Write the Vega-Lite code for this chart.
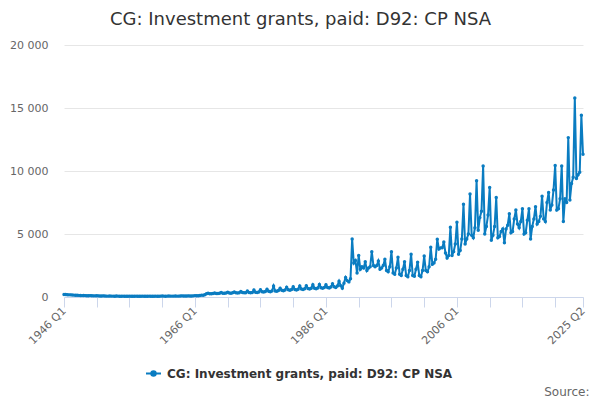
{
"$schema": "https://vega.github.io/schema/vega-lite/v6.json",
"width": 519, "height": 252,
"autosize": {"type": "none"},
"padding": {"left": 64, "top": 45, "right": 17, "bottom": 103},
"background": "white",
"config": {"view": {"stroke": null}, "font": "DejaVu Sans"},
"title": {"text": "CG: Investment grants, paid: D92: CP NSA", "font": "DejaVu Sans", "fontSize": 18, "fontWeight": "normal", "color": "#333333", "anchor": "middle", "frame": "group", "dx": -23, "offset": 10},
"data": {"values": [
{"q":"1946 Q1","v":190},{"q":"1946 Q2","v":200},{"q":"1946 Q3","v":180},{"q":"1946 Q4","v":170},
{"q":"1947 Q1","v":170},{"q":"1947 Q2","v":160},{"q":"1947 Q3","v":150},{"q":"1947 Q4","v":140},
{"q":"1948 Q1","v":140},{"q":"1948 Q2","v":130},{"q":"1948 Q3","v":120},{"q":"1948 Q4","v":110},
{"q":"1949 Q1","v":120},{"q":"1949 Q2","v":110},{"q":"1949 Q3","v":100},{"q":"1949 Q4","v":100},
{"q":"1950 Q1","v":110},{"q":"1950 Q2","v":100},{"q":"1950 Q3","v":90},{"q":"1950 Q4","v":90},
{"q":"1951 Q1","v":100},{"q":"1951 Q2","v":90},{"q":"1951 Q3","v":80},{"q":"1951 Q4","v":80},
{"q":"1952 Q1","v":90},{"q":"1952 Q2","v":80},{"q":"1952 Q3","v":70},{"q":"1952 Q4","v":70},
{"q":"1953 Q1","v":80},{"q":"1953 Q2","v":70},{"q":"1953 Q3","v":70},{"q":"1953 Q4","v":60},
{"q":"1954 Q1","v":80},{"q":"1954 Q2","v":70},{"q":"1954 Q3","v":60},{"q":"1954 Q4","v":60},
{"q":"1955 Q1","v":70},{"q":"1955 Q2","v":60},{"q":"1955 Q3","v":60},{"q":"1955 Q4","v":60},
{"q":"1956 Q1","v":70},{"q":"1956 Q2","v":60},{"q":"1956 Q3","v":60},{"q":"1956 Q4","v":60},
{"q":"1957 Q1","v":70},{"q":"1957 Q2","v":60},{"q":"1957 Q3","v":60},{"q":"1957 Q4","v":60},
{"q":"1958 Q1","v":70},{"q":"1958 Q2","v":60},{"q":"1958 Q3","v":60},{"q":"1958 Q4","v":60},
{"q":"1959 Q1","v":70},{"q":"1959 Q2","v":60},{"q":"1959 Q3","v":60},{"q":"1959 Q4","v":60},
{"q":"1960 Q1","v":70},{"q":"1960 Q2","v":60},{"q":"1960 Q3","v":60},{"q":"1960 Q4","v":70},
{"q":"1961 Q1","v":80},{"q":"1961 Q2","v":70},{"q":"1961 Q3","v":60},{"q":"1961 Q4","v":70},
{"q":"1962 Q1","v":80},{"q":"1962 Q2","v":70},{"q":"1962 Q3","v":70},{"q":"1962 Q4","v":70},
{"q":"1963 Q1","v":80},{"q":"1963 Q2","v":70},{"q":"1963 Q3","v":70},{"q":"1963 Q4","v":80},
{"q":"1964 Q1","v":90},{"q":"1964 Q2","v":80},{"q":"1964 Q3","v":80},{"q":"1964 Q4","v":80},
{"q":"1965 Q1","v":90},{"q":"1965 Q2","v":80},{"q":"1965 Q3","v":80},{"q":"1965 Q4","v":90},
{"q":"1966 Q1","v":110},{"q":"1966 Q2","v":100},{"q":"1966 Q3","v":100},{"q":"1966 Q4","v":120},
{"q":"1967 Q1","v":150},{"q":"1967 Q2","v":140},{"q":"1967 Q3","v":180},{"q":"1967 Q4","v":260},
{"q":"1968 Q1","v":300},{"q":"1968 Q2","v":260},{"q":"1968 Q3","v":250},{"q":"1968 Q4","v":270},
{"q":"1969 Q1","v":320},{"q":"1969 Q2","v":280},{"q":"1969 Q3","v":270},{"q":"1969 Q4","v":290},
{"q":"1970 Q1","v":350},{"q":"1970 Q2","v":300},{"q":"1970 Q3","v":290},{"q":"1970 Q4","v":320},
{"q":"1971 Q1","v":380},{"q":"1971 Q2","v":320},{"q":"1971 Q3","v":300},{"q":"1971 Q4","v":330},
{"q":"1972 Q1","v":400},{"q":"1972 Q2","v":330},{"q":"1972 Q3","v":320},{"q":"1972 Q4","v":340},
{"q":"1973 Q1","v":430},{"q":"1973 Q2","v":350},{"q":"1973 Q3","v":330},{"q":"1973 Q4","v":340},
{"q":"1974 Q1","v":470},{"q":"1974 Q2","v":360},{"q":"1974 Q3","v":340},{"q":"1974 Q4","v":360},
{"q":"1975 Q1","v":550},{"q":"1975 Q2","v":380},{"q":"1975 Q3","v":360},{"q":"1975 Q4","v":400},
{"q":"1976 Q1","v":580},{"q":"1976 Q2","v":420},{"q":"1976 Q3","v":400},{"q":"1976 Q4","v":440},
{"q":"1977 Q1","v":620},{"q":"1977 Q2","v":450},{"q":"1977 Q3","v":420},{"q":"1977 Q4","v":480},
{"q":"1978 Q1","v":870},{"q":"1978 Q2","v":480},{"q":"1978 Q3","v":460},{"q":"1978 Q4","v":520},
{"q":"1979 Q1","v":700},{"q":"1979 Q2","v":540},{"q":"1979 Q3","v":500},{"q":"1979 Q4","v":560},
{"q":"1980 Q1","v":780},{"q":"1980 Q2","v":580},{"q":"1980 Q3","v":540},{"q":"1980 Q4","v":600},
{"q":"1981 Q1","v":820},{"q":"1981 Q2","v":600},{"q":"1981 Q3","v":560},{"q":"1981 Q4","v":620},
{"q":"1982 Q1","v":880},{"q":"1982 Q2","v":640},{"q":"1982 Q3","v":600},{"q":"1982 Q4","v":660},
{"q":"1983 Q1","v":900},{"q":"1983 Q2","v":680},{"q":"1983 Q3","v":640},{"q":"1983 Q4","v":700},
{"q":"1984 Q1","v":980},{"q":"1984 Q2","v":700},{"q":"1984 Q3","v":660},{"q":"1984 Q4","v":720},
{"q":"1985 Q1","v":1000},{"q":"1985 Q2","v":740},{"q":"1985 Q3","v":700},{"q":"1985 Q4","v":760},
{"q":"1986 Q1","v":980},{"q":"1986 Q2","v":760},{"q":"1986 Q3","v":720},{"q":"1986 Q4","v":800},
{"q":"1987 Q1","v":1050},{"q":"1987 Q2","v":820},{"q":"1987 Q3","v":760},{"q":"1987 Q4","v":880},
{"q":"1988 Q1","v":1250},{"q":"1988 Q2","v":900},{"q":"1988 Q3","v":700},{"q":"1988 Q4","v":1100},
{"q":"1989 Q1","v":1550},{"q":"1989 Q2","v":1300},{"q":"1989 Q3","v":1200},{"q":"1989 Q4","v":1450},
{"q":"1990 Q1","v":4600},{"q":"1990 Q2","v":2700},{"q":"1990 Q3","v":2900},{"q":"1990 Q4","v":1900},
{"q":"1991 Q1","v":3300},{"q":"1991 Q2","v":2200},{"q":"1991 Q3","v":2400},{"q":"1991 Q4","v":2300},
{"q":"1992 Q1","v":2800},{"q":"1992 Q2","v":2100},{"q":"1992 Q3","v":2300},{"q":"1992 Q4","v":2400},
{"q":"1993 Q1","v":3600},{"q":"1993 Q2","v":2500},{"q":"1993 Q3","v":2400},{"q":"1993 Q4","v":2500},
{"q":"1994 Q1","v":2850},{"q":"1994 Q2","v":2200},{"q":"1994 Q3","v":2300},{"q":"1994 Q4","v":2500},
{"q":"1995 Q1","v":3000},{"q":"1995 Q2","v":2100},{"q":"1995 Q3","v":2000},{"q":"1995 Q4","v":2400},
{"q":"1996 Q1","v":3600},{"q":"1996 Q2","v":1900},{"q":"1996 Q3","v":1800},{"q":"1996 Q4","v":2300},
{"q":"1997 Q1","v":3150},{"q":"1997 Q2","v":1800},{"q":"1997 Q3","v":1700},{"q":"1997 Q4","v":2200},
{"q":"1998 Q1","v":2800},{"q":"1998 Q2","v":1700},{"q":"1998 Q3","v":1600},{"q":"1998 Q4","v":2100},
{"q":"1999 Q1","v":3400},{"q":"1999 Q2","v":1700},{"q":"1999 Q3","v":1650},{"q":"1999 Q4","v":2200},
{"q":"2000 Q1","v":2750},{"q":"2000 Q2","v":1700},{"q":"2000 Q3","v":1600},{"q":"2000 Q4","v":2100},
{"q":"2001 Q1","v":3250},{"q":"2001 Q2","v":2100},{"q":"2001 Q3","v":2000},{"q":"2001 Q4","v":2400},
{"q":"2002 Q1","v":3950},{"q":"2002 Q2","v":2600},{"q":"2002 Q3","v":2700},{"q":"2002 Q4","v":3000},
{"q":"2003 Q1","v":4580},{"q":"2003 Q2","v":3800},{"q":"2003 Q3","v":3900},{"q":"2003 Q4","v":3900},
{"q":"2004 Q1","v":4370},{"q":"2004 Q2","v":3500},{"q":"2004 Q3","v":3100},{"q":"2004 Q4","v":3300},
{"q":"2005 Q1","v":5530},{"q":"2005 Q2","v":3300},{"q":"2005 Q3","v":3600},{"q":"2005 Q4","v":4200},
{"q":"2006 Q1","v":5930},{"q":"2006 Q2","v":3400},{"q":"2006 Q3","v":3700},{"q":"2006 Q4","v":4600},
{"q":"2007 Q1","v":7360},{"q":"2007 Q2","v":4200},{"q":"2007 Q3","v":4600},{"q":"2007 Q4","v":5000},
{"q":"2008 Q1","v":8180},{"q":"2008 Q2","v":4900},{"q":"2008 Q3","v":4700},{"q":"2008 Q4","v":5500},
{"q":"2009 Q1","v":9230},{"q":"2009 Q2","v":5300},{"q":"2009 Q3","v":6300},{"q":"2009 Q4","v":6800},
{"q":"2010 Q1","v":10400},{"q":"2010 Q2","v":5000},{"q":"2010 Q3","v":5600},{"q":"2010 Q4","v":6500},
{"q":"2011 Q1","v":8700},{"q":"2011 Q2","v":4500},{"q":"2011 Q3","v":4900},{"q":"2011 Q4","v":5600},
{"q":"2012 Q1","v":7900},{"q":"2012 Q2","v":4700},{"q":"2012 Q3","v":4800},{"q":"2012 Q4","v":5200},
{"q":"2013 Q1","v":5400},{"q":"2013 Q2","v":4300},{"q":"2013 Q3","v":5400},{"q":"2013 Q4","v":5700},
{"q":"2014 Q1","v":6600},{"q":"2014 Q2","v":5100},{"q":"2014 Q3","v":5200},{"q":"2014 Q4","v":6200},
{"q":"2015 Q1","v":6900},{"q":"2015 Q2","v":5800},{"q":"2015 Q3","v":5500},{"q":"2015 Q4","v":6000},
{"q":"2016 Q1","v":7000},{"q":"2016 Q2","v":5000},{"q":"2016 Q3","v":5100},{"q":"2016 Q4","v":6100},
{"q":"2017 Q1","v":7000},{"q":"2017 Q2","v":4600},{"q":"2017 Q3","v":5600},{"q":"2017 Q4","v":6200},
{"q":"2018 Q1","v":7170},{"q":"2018 Q2","v":5800},{"q":"2018 Q3","v":6000},{"q":"2018 Q4","v":6400},
{"q":"2019 Q1","v":8000},{"q":"2019 Q2","v":6200},{"q":"2019 Q3","v":6000},{"q":"2019 Q4","v":7500},
{"q":"2020 Q1","v":8300},{"q":"2020 Q2","v":6900},{"q":"2020 Q3","v":7300},{"q":"2020 Q4","v":8500},
{"q":"2021 Q1","v":10430},{"q":"2021 Q2","v":6900},{"q":"2021 Q3","v":7000},{"q":"2021 Q4","v":7800},
{"q":"2022 Q1","v":10400},{"q":"2022 Q2","v":6000},{"q":"2022 Q3","v":7800},{"q":"2022 Q4","v":7500},
{"q":"2023 Q1","v":12650},{"q":"2023 Q2","v":7700},{"q":"2023 Q3","v":9000},{"q":"2023 Q4","v":9500},
{"q":"2024 Q1","v":15800},{"q":"2024 Q2","v":9400},{"q":"2024 Q3","v":9700},{"q":"2024 Q4","v":9900},
{"q":"2025 Q1","v":14420},{"q":"2025 Q2","v":11330}
]},
"mark": {"type": "line", "strokeWidth": 2, "point": {"size": 12, "filled": true}},
"encoding": {
"x": {"field": "q", "type": "ordinal", "sort": null, "scale": {"type": "point", "padding": 0},
 "axis": {"values": ["1946 Q1","1951 Q1","1956 Q1","1961 Q1","1966 Q1","1971 Q1","1976 Q1","1981 Q1","1986 Q1","1991 Q1","1996 Q1","2001 Q1","2006 Q1","2011 Q1","2016 Q1","2021 Q1","2025 Q2"],
  "labelExpr": "indexof(['1946 Q1','1966 Q1','1986 Q1','2006 Q1','2025 Q2'], datum.value) >= 0 ? datum.value : ''",
  "labelAngle": -45, "labelAlign": "right", "labelBaseline": "middle", "labelPadding": 2, "labelOverlap": false, "labelBound": false,
  "labelFont": "DejaVu Sans", "labelFontSize": 11, "labelColor": "#666666",
  "domainColor": "#ccd6eb", "domainWidth": 1, "tickColor": "#ccd6eb", "tickSize": 10, "grid": false,
  "title": "Source:", "titleFont": "DejaVu Sans", "titleFontSize": 12, "titleFontWeight": "normal", "titleColor": "#666666",
  "titleAnchor": "end", "titleAlign": "right", "titleX": 525, "titleY": 98, "titleBaseline": "alphabetic"}},
"y": {"field": "v", "type": "quantitative", "scale": {"domain": [0, 20000]},
 "axis": {"values": [0, 5000, 10000, 15000, 20000], "labelExpr": "datum.value >= 1000 ? floor(datum.value/1000) + ' 000' : '0'",
  "domain": false, "ticks": false, "gridColor": "#e6e6e6", "gridWidth": 1, "labelFont": "DejaVu Sans", "labelFontSize": 11, "labelColor": "#666666", "labelPadding": 16, "title": null}},
"color": {"datum": "CG: Investment grants, paid: D92: CP NSA", "scale": {"range": ["#0a7cc1"]},
 "legend": {"orient": "none", "legendX": 81, "legendY": 320, "direction": "horizontal", "title": null,
  "labelFont": "DejaVu Sans", "labelFontSize": 12, "labelFontWeight": "bold", "labelColor": "#333333", "labelOffset": 5, "labelLimit": 0,
  "symbolType": "M-1,0L1,0M0.3,0A0.3,0.3,0,1,1,-0.3,0A0.3,0.3,0,1,1,0.3,0", "symbolSize": 225, "symbolStrokeWidth": 2, "symbolFillColor": "#0a7cc1", "symbolStrokeColor": "#0a7cc1"}}
}
}
